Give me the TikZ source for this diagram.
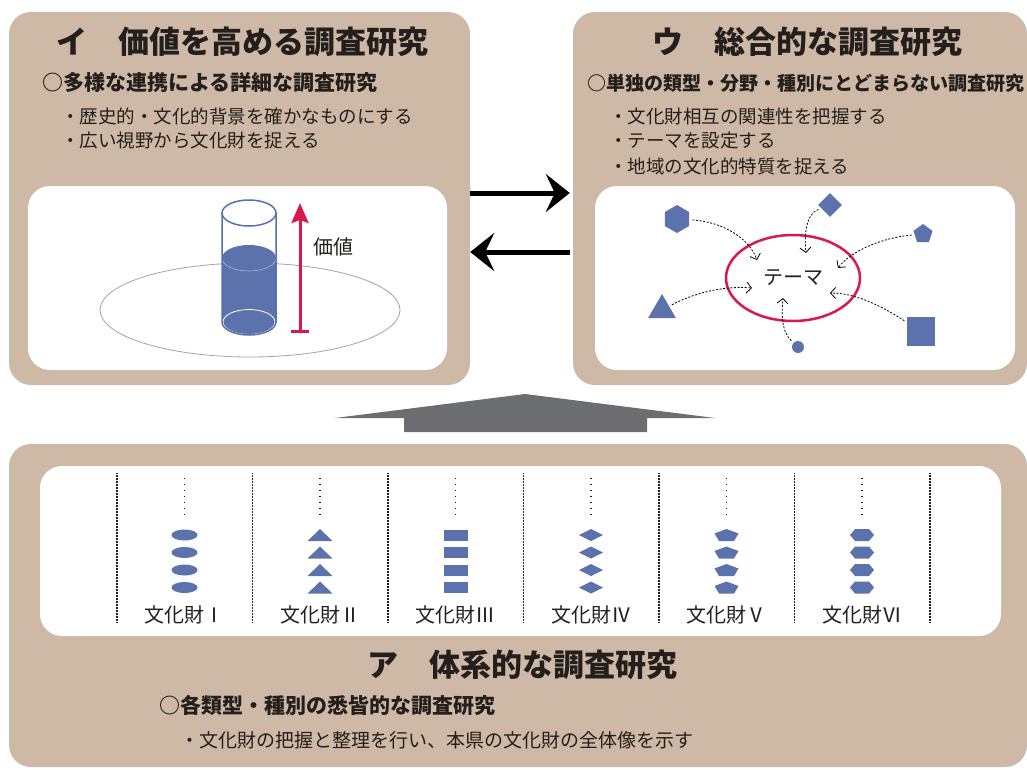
\documentclass[tikz,border=0pt]{standalone}
\usepackage{fontspec}
\setmainfont{Noto Sans CJK JP}
\usepackage{xcolor}
\usetikzlibrary{arrows.meta, shapes.geometric, positioning}

\definecolor{panelbeige}{HTML}{CDB9A5}
\definecolor{valblue}{HTML}{5C72AC}
\definecolor{cylblue}{HTML}{5770B0}
\definecolor{themered}{HTML}{D9184F}
\definecolor{arrowgray}{HTML}{6C6D71}
\definecolor{basegray}{HTML}{A9A39C}
\definecolor{inkgray}{HTML}{231F1C}

\begin{document}
\begin{tikzpicture}[x=1pt, y=1pt,
    panel/.style={fill=panelbeige, rounded corners=22pt, inner sep=0pt},
    innerbox/.style={fill=white, rounded corners=22pt, inner sep=0pt},
    heading/.style={text=inkgray, inner sep=0pt, font=\bfseries\fontsize{31}{31}\selectfont},
    subhead/.style={text=inkgray, inner sep=0pt, anchor=west, font=\bfseries\fontsize{21}{21}\selectfont},
    bullet/.style={text=inkgray, inner sep=0pt, anchor=west, font=\fontsize{18.5}{18.5}\selectfont},
    collabel/.style={text=inkgray, inner sep=0pt, font=\fontsize{20}{20}\selectfont},
    item/.style={fill=valblue, inner sep=0pt},
    themeline/.style={-{Straight Barb[length=5pt,width=11pt]}, dash pattern=on 2pt off 1.6pt, line width=0.8pt, shorten <=3pt},
    swap/.style={line width=5pt, -{Stealth[length=24pt,width=38pt,inset=9pt]}},
    sepline/.style={inkgray, line width=1.4pt, dash pattern=on 0.8pt off 0.7pt},
    dotcol/.style={inkgray, line width=1.1pt, dash pattern=on 1.1pt off 4.9pt},
  ]
  \useasboundingbox (0,0) rectangle (1027,-769);

  % panels
  \node[panel, minimum width=461pt, minimum height=373pt] (pI) at (239.5,-198.5) {};
  \node[panel, minimum width=454pt, minimum height=373pt] (pU) at (800,-198.5) {};
  \node[panel, minimum width=1018pt, minimum height=323pt] (pA) at (518,-605.5) {};
  \node[innerbox, minimum width=419pt, minimum height=184pt] (wI) at (237.5,-278) {};
  \node[innerbox, minimum width=420pt, minimum height=184pt] (wU) at (805,-278) {};
  \node[innerbox, minimum width=961pt, minimum height=170pt] (wA) at (520.5,-551) {};

  % texts
  \node[heading] (tI) at (242,-42) {イ　価値を高める調査研究};
  \node[subhead] (sI) at (42,-83) {○多様な連携による詳細な調査研究};
  \node[bullet] (bI1) at (61,-116) {・歴史的・文化的背景を確かなものにする};
  \node[bullet] (bI2) at (61,-141) {・広い視野から文化財を捉える};

  \node[heading] (tU) at (807,-42) {ウ　総合的な調査研究};
  \node[subhead, font=\bfseries\fontsize{19}{19}\selectfont] (sU) at (587,-83) {○単独の類型・分野・種別にとどまらない調査研究};
  \node[bullet] (bU1) at (609,-116) {・文化財相互の関連性を把握する};
  \node[bullet] (bU2) at (609,-141) {・テーマを設定する};
  \node[bullet] (bU3) at (609,-166) {・地域の文化的特質を捉える};

  \node[heading] (tA) at (522,-665) {ア　体系的な調査研究};
  \node[subhead] (sA) at (159,-705) {○各類型・種別の悉皆的な調査研究};
  \node[bullet, font=\fontsize{19}{19}\selectfont] (bA) at (180,-740) {・文化財の把握と整理を行い、本県の文化財の全体像を示す};

  % value cylinder
  \draw[basegray, line width=0.8pt] (250,-310) ellipse[x radius=150, y radius=47];
  \fill[valblue] (222,-258) -- (222,-322) arc[start angle=180, end angle=360, x radius=27, y radius=13]
    -- (276,-258) arc[start angle=0, end angle=180, x radius=27, y radius=13] -- cycle;
  \draw[white, opacity=.5, line width=0.6pt] (222,-258) arc[start angle=180, end angle=360, x radius=27, y radius=13];
  \draw[white, line width=0.8pt] (249,-322) ellipse[x radius=26, y radius=12.5];
  \draw[cylblue, line width=1.5pt] (222,-213) -- (222,-322) arc[start angle=180, end angle=360, x radius=27, y radius=13] -- (276,-213);
  \draw[cylblue, line width=1.5pt] (249,-213) ellipse[x radius=27, y radius=13];
  \coordinate (vlow) at (300,-333);
  \coordinate (vhigh) at (300,-203);
  \draw[themered, line width=3pt, {Bar[width=18pt]}-{Stealth[length=20pt,width=17pt,inset=3pt]}] (vlow) -- (vhigh);
  \node[collabel] (vlabel) at (333,-247) {価値};

  % theme
  \node[ellipse, draw=themered, line width=2.5pt, minimum width=134pt, minimum height=86pt,
    text=inkgray, font=\fontsize{20}{20}\selectfont] (theme) at (793,-278) {テーマ};
  \node[item, regular polygon, regular polygon sides=6, shape border rotate=30, minimum size=28pt] (hex) at (677,-219) {};
  \node[item, diamond, minimum width=24pt, minimum height=24pt] (dia) at (830,-205) {};
  \node[item, regular polygon, regular polygon sides=5, minimum size=20pt] (pent) at (923,-234) {};
  \node[item, regular polygon, regular polygon sides=3, minimum size=32pt] (tri) at (662,-310) {};
  \node[item, circle, minimum size=12pt] (dot) at (798,-347) {};
  \node[item, minimum width=28pt, minimum height=29pt] (sq) at (921,-331.5) {};
  \coordinate (eHex) at (757,-260);
  \coordinate (eDia) at (806,-253);
  \coordinate (ePent) at (838,-268);
  \coordinate (eTri) at (752,-288);
  \coordinate (eDot) at (783,-298);
  \coordinate (eSq) at (830,-293);
  \draw[themeline] (hex) .. controls (725,-222) and (750,-240) .. (eHex);
  \draw[themeline] (dia) .. controls (806,-214) and (804,-235) .. (eDia);
  \draw[themeline] (pent) .. controls (880,-238) and (850,-252) .. (ePent);
  \draw[themeline] (tri) .. controls (700,-290) and (730,-286) .. (eTri);
  \draw[themeline] (dot) .. controls (780,-330) and (782,-310) .. (eDot);
  \draw[themeline] (sq) .. controls (880,-305) and (855,-293) .. (eSq);

  % arrows between panels
  \draw[swap, shorten >=3pt] ([yshift=5.5pt]pI.east) -- ([yshift=5.5pt]pU.west);
  \draw[swap, shorten <=3pt] ([yshift=-53.5pt]pU.west) -- ([yshift=-53.5pt]pI.east);
  \fill[arrowgray] (335,-418) -- (525,-394) -- (715,-418) -- (647,-418) -- (647,-432)
    -- (404,-432) -- (404,-418) -- cycle;

  % columns
  \foreach \x in {117,252.5,388,523.5,659,794.5,930}
    \draw[sepline] (\x,-473) -- (\x,-622);
  \foreach \r [count=\i] in {Ⅰ,Ⅱ,Ⅲ,Ⅳ,Ⅴ,Ⅵ} {
    \pgfmathsetmacro\cx{49+135.5*\i}
    \draw[dotcol] (\cx,-478) -- (\cx,-516);
    \node[collabel] (lab\i) at (\cx,-615) {文化財\r};
  }
  \foreach \y in {535,552.5,570,587.5} {
    \fill[valblue] (184.5,-\y) ellipse[x radius=13, y radius=5.5];
    \fill[valblue] (307.5,-\y-6) -- (332.5,-\y-6) -- (320,-\y+6) -- cycle;
    \fill[valblue] (443.5,-\y-5.5) rectangle (467.5,-\y+5.5);
    \fill[valblue] (579,-\y) -- (591,-\y+6) -- (603,-\y) -- (591,-\y-6) -- cycle;
    \fill[valblue] (726.5,-\y+6) -- (738.5,-\y+1.5) -- (734,-\y-6) -- (719,-\y-6) -- (714.5,-\y+1.5) -- cycle;
    \fill[valblue] (850,-\y) -- (855,-\y+6) -- (869,-\y+6) -- (874,-\y) -- (869,-\y-6) -- (855,-\y-6) -- cycle;
  }
\end{tikzpicture}
\end{document}
